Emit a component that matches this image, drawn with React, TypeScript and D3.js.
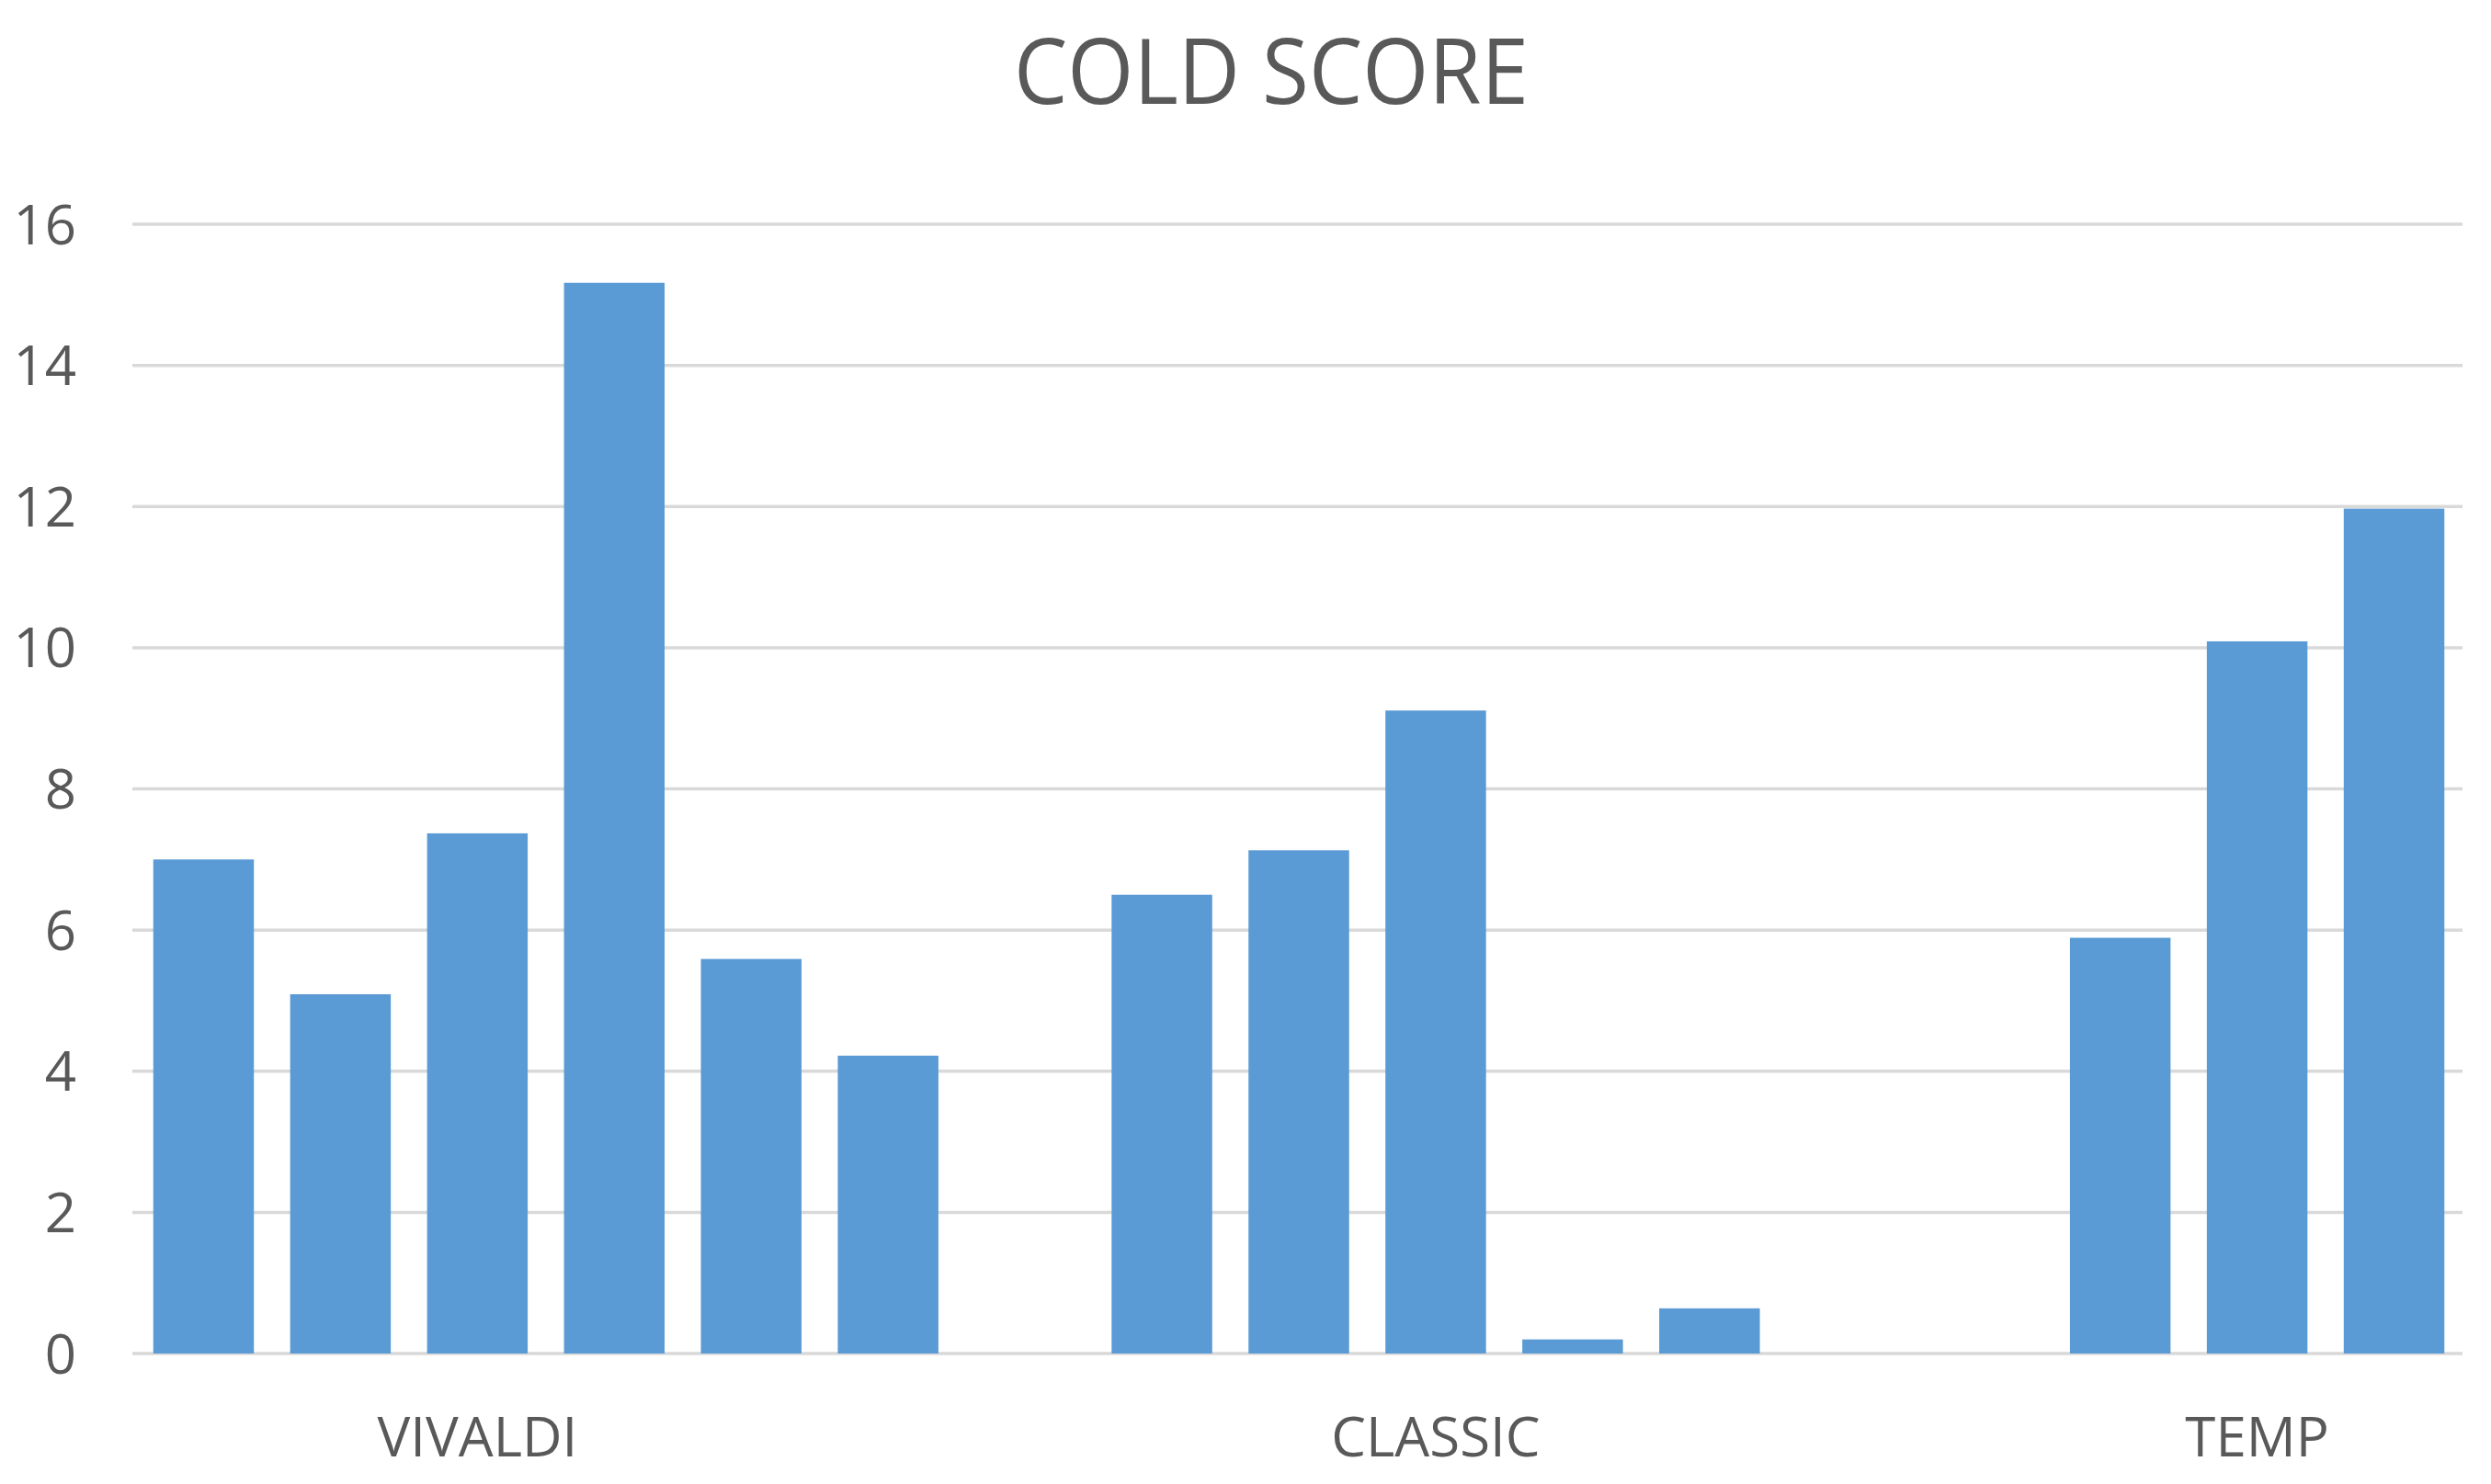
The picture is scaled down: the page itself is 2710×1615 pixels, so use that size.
import { useEffect, useRef } from 'react';
import * as d3 from 'd3';

// 17 category slots (Excel leaves blank ones between groups)
const slotLabels = ["", "", "VIVALDI", "", "", "", "", "", "", "CLASSIC", "", "", "", "", "", "TEMP", ""];
const scores: (number | null)[] = [7.0, 5.09, 7.37, 15.17, 5.59, 4.22, null, 6.5, 7.13, 9.11, 0.2, 0.64, null, null, 5.89, 10.09, 11.97];
const yTicks = [0, 2, 4, 6, 8, 10, 12, 14, 16];
const title = "COLD SCORE";

const App = () => {
  const svgRef = useRef<SVGSVGElement>(null);

  useEffect(() => {
    const W = 2710;
    const H = 1615;
    const margin = { top: 244, right: 31, bottom: 142, left: 147 };
    const font = "'Open Sans', 'Noto Sans', sans-serif";
    const textColor = "#595959";

    const svgEl = d3.select(svgRef.current);
    svgEl.selectAll("*").remove();
    svgEl.attr("width", W).attr("height", H);

    svgEl.append("rect").attr("width", W).attr("height", H).attr("fill", "#fff");

    const idx = slotLabels.map((_, i) => String(i));
    const x = d3.scaleBand()
      .domain(idx)
      .range([margin.left, W - margin.right])
      .paddingInner(0.265)
      .paddingOuter(0.1325);

    const y = d3.scaleLinear()
      .domain([0, 16])
      .range([H - margin.bottom, margin.top]);

    // gridlines
    svgEl.append("g")
      .selectAll("line")
      .data(yTicks)
      .join("line")
      .attr("x1", margin.left - 3)
      .attr("x2", W - margin.right)
      .attr("y1", d => y(d))
      .attr("y2", d => y(d))
      .attr("stroke", "#d9d9d9")
      .attr("stroke-width", 3.5);

    // y labels
    svgEl.append("g")
      .selectAll("text")
      .data(yTicks)
      .join("text")
      .attr("x", 83)
      .attr("y", d => y(d) + 21.5)
      .attr("text-anchor", "end")
      .attr("font-family", font)
      .attr("font-size", 60)
      .attr("fill", textColor)
      .text(d => d);

    // bars
    const barData = scores.map((v, i) => ({ key: String(i), v })).filter(d => d.v !== null);
    svgEl.append("g")
      .selectAll("rect")
      .data(barData)
      .join("rect")
      .attr("x", d => x(d.key)!)
      .attr("width", x.bandwidth())
      .attr("y", d => y(d.v as number))
      .attr("height", d => y(0) - y(d.v as number))
      .attr("fill", "#5b9bd5");

    // x labels
    svgEl.append("g")
      .selectAll("text")
      .data(slotLabels.map((l, i) => ({ l, key: String(i) })).filter(d => d.l))
      .join("text")
      .attr("x", d => x(d.key)! + x.bandwidth() / 2)
      .attr("y", 1585)
      .attr("text-anchor", "middle")
      .attr("font-family", font)
      .attr("font-size", 60)
      .attr("fill", textColor)
      .text(d => d.l);

    // title
    svgEl.append("text")
      .attr("x", 1103)
      .attr("y", 113)
      .attr("textLength", 560)
      .attr("lengthAdjust", "spacingAndGlyphs")
      .attr("font-family", font)
      .attr("font-size", 98)
      .attr("fill", textColor)
      .text(title);
  }, []);

  return <svg ref={svgRef} style={{ position: "absolute", left: 0, top: 0 }}></svg>;
};

export default App;
